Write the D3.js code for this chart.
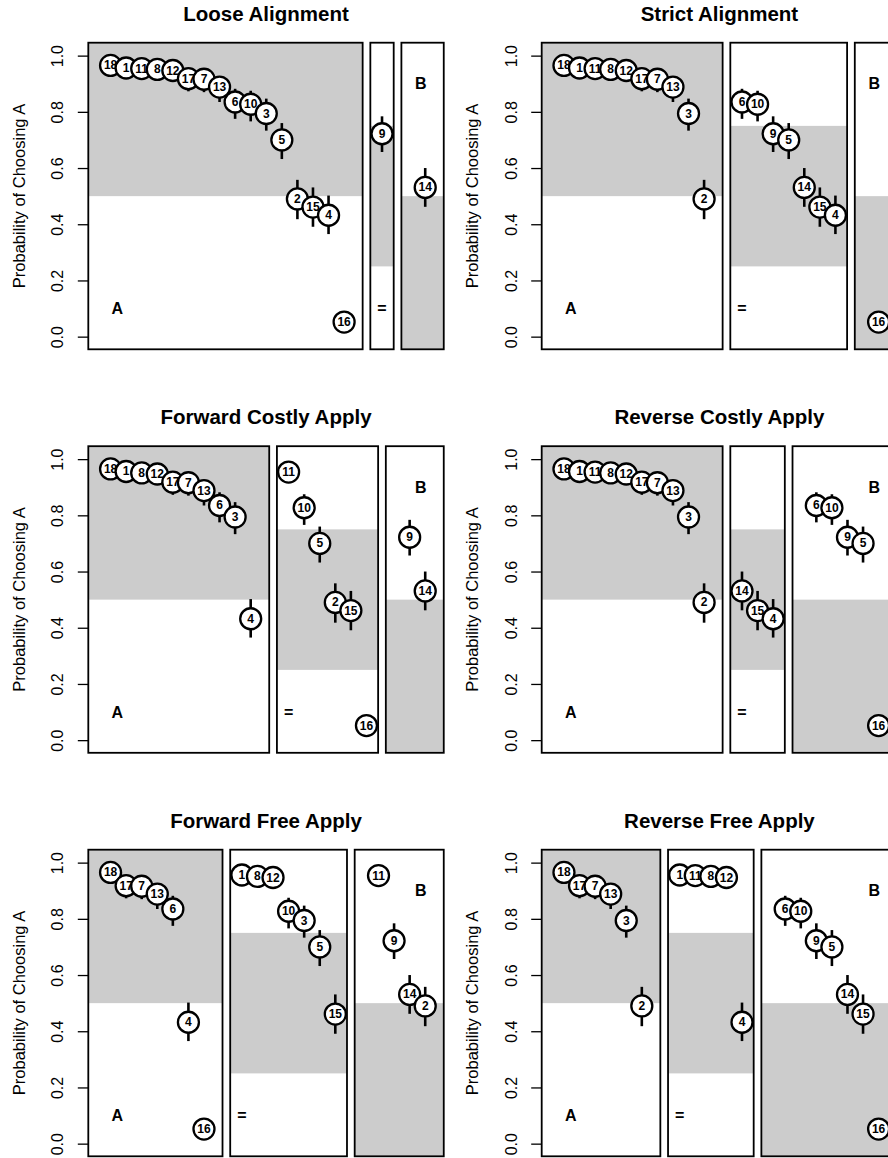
<!DOCTYPE html>
<html>
<head>
<meta charset="utf-8">
<script src="https://cdn.jsdelivr.net/npm/d3@7"></script>
<style>
  body { margin: 0; background: #fff; }
  text { font-family: "Liberation Sans", Arial, Helvetica, sans-serif; fill: #000; }
</style>
</head>
<body>
<div id="chart"></div>
<script>
// Items, their probability of choosing A and the interval ends
var items = [18, 1, 11, 8, 12, 17, 7, 13, 6, 10, 3, 9, 5, 14, 2, 15, 4, 16];
var prob  = [0.965, 0.956, 0.954, 0.951, 0.947, 0.918, 0.916, 0.888, 0.835, 0.827, 0.794, 0.722, 0.700, 0.531, 0.490, 0.461, 0.432, 0.052];
var lower = [0.935, 0.925, 0.923, 0.918, 0.912, 0.873, 0.870, 0.835, 0.775, 0.766, 0.733, 0.657, 0.632, 0.462, 0.418, 0.391, 0.365, 0.030];
var upper = [0.985, 0.978, 0.977, 0.975, 0.972, 0.950, 0.948, 0.925, 0.882, 0.875, 0.847, 0.784, 0.760, 0.600, 0.558, 0.531, 0.502, 0.080];

// Panels and which items each theory puts in A, "=" and B
var panelTitles = ["Loose Alignment", "Strict Alignment", "Forward Costly Apply",
                   "Reverse Costly Apply", "Forward Free Apply", "Reverse Free Apply"];
var groupA = [
  [18, 1, 11, 8, 12, 17, 7, 13, 6, 10, 3, 5, 2, 15, 4, 16],
  [18, 1, 11, 8, 12, 17, 7, 13, 3, 2],
  [18, 1, 8, 12, 17, 7, 13, 6, 3, 4],
  [18, 1, 11, 8, 12, 17, 7, 13, 3, 2],
  [18, 17, 7, 13, 6, 4, 16],
  [18, 17, 7, 13, 3, 2]
];
var groupEq = [
  [9],
  [6, 10, 9, 5, 14, 15, 4],
  [11, 10, 5, 2, 15, 16],
  [14, 15, 4],
  [1, 8, 12, 10, 3, 5, 15],
  [1, 11, 8, 12, 4]
];
var groupB = [
  [14],
  [16],
  [9, 14],
  [6, 10, 9, 5, 16],
  [11, 9, 14, 2],
  [6, 10, 9, 5, 14, 15, 16]
];
var yTicks = [0, 0.2, 0.4, 0.6, 0.8, 1.0];

// layout
var width = 888, height = 1158;
var unit = 15.57, gap = 7.7;
var colX = [88.3, 541.7];
var rowTop = [42.7, 446.2, 849.7];
var boxH = 306.6;

// how each kind of box is built: padding in item slots, shaded band, letter
var kinds = [
  { key: "A", padL: 1.43, padR: 1.19, band: [0.5, null], label: "A", lx: function(n) { return 0.43; }, ly: 0.1 },
  { key: "=", padL: 0.75, padR: 0.75, band: [0.25, 0.75], label: "=", lx: function(n) { return 0; }, ly: 0.1 },
  { key: "B", padL: 1.53, padR: 1.19, band: [null, 0.5], label: "B", lx: function(n) { return n - 1 - 0.28; }, ly: 0.9 }
];

var svg = d3.select("#chart").append("svg")
  .attr("width", width)
  .attr("height", height);

panelTitles.forEach(function(title, p) {
  var col = p % 2, row = Math.floor(p / 2);
  var left = colX[col], top = rowTop[row];

  var y = d3.scaleLinear().domain([-0.045, 1.046]).range([top + boxH, top]);
  var yMin = y.domain()[0], yMax = y.domain()[1];

  var g = svg.append("g");
  var groups = [groupA[p], groupEq[p], groupB[p]];

  var x0 = left;
  groups.forEach(function(ids, k) {
    var kind = kinds[k];
    var n = ids.length;
    var w = (n - 1 + kind.padL + kind.padR) * unit;
    var x = d3.scaleLinear().domain([-kind.padL, n - 1 + kind.padR]).range([x0, x0 + w]);

    var lo = kind.band[0] === null ? yMin : kind.band[0];
    var hi = kind.band[1] === null ? yMax : kind.band[1];
    g.append("rect")
      .attr("x", x0).attr("width", w)
      .attr("y", y(hi)).attr("height", y(lo) - y(hi))
      .attr("fill", "#cccccc");

    g.append("text")
      .attr("x", x(kind.lx(n)))
      .attr("y", y(kind.ly))
      .attr("text-anchor", "middle")
      .attr("dominant-baseline", "central")
      .attr("font-weight", "bold")
      .attr("font-size", "16px")
      .text(kind.label);

    ids.forEach(function(id, i) {
      var j = items.indexOf(id);
      var pt = g.append("g");
      pt.append("line")
        .attr("x1", x(i)).attr("x2", x(i))
        .attr("y1", y(lower[j])).attr("y2", y(upper[j]))
        .attr("stroke", "#000").attr("stroke-width", 2.6);
      pt.append("circle")
        .attr("cx", x(i)).attr("cy", y(prob[j]))
        .attr("r", 10.5)
        .attr("fill", "#fff").attr("stroke", "#000").attr("stroke-width", 2.3);
      pt.append("text")
        .attr("x", x(i)).attr("y", y(prob[j]))
        .attr("text-anchor", "middle")
        .attr("dominant-baseline", "central")
        .attr("font-weight", "bold")
        .attr("font-size", "12px")
        .text(id);
    });

    g.append("rect")
      .attr("x", x0).attr("width", w)
      .attr("y", top).attr("height", boxH)
      .attr("fill", "none").attr("stroke", "#000").attr("stroke-width", 1.8);

    x0 += w + gap;
  });
  var right = x0 - gap;

  // y axis with rotated labels
  var axis = g.append("g")
    .attr("transform", "translate(" + left + ",0)")
    .call(d3.axisLeft(y).tickValues(yTicks).tickFormat(d3.format(".1f")).tickSize(10.5));
  axis.select(".domain").remove();
  axis.selectAll("line").attr("stroke", "#000").attr("stroke-width", 1.3);
  axis.selectAll("text")
    .attr("x", null).attr("dy", null)
    .attr("text-anchor", "middle")
    .attr("transform", "translate(-25,0) rotate(-90)")
    .attr("font-size", "16px")
    .attr("font-family", "Liberation Sans, Arial, sans-serif");

  g.append("text")
    .attr("transform", "translate(" + (left - 63.3) + "," + (top + boxH / 2) + ") rotate(-90)")
    .attr("text-anchor", "middle")
    .attr("font-size", "16.5px")
    .text("Probability of Choosing A");

  g.append("text")
    .attr("x", (left + right) / 2)
    .attr("y", top - 22)
    .attr("text-anchor", "middle")
    .attr("font-weight", "bold")
    .attr("font-size", "20.5px")
    .text(title);
});
</script>
</body>
</html>
